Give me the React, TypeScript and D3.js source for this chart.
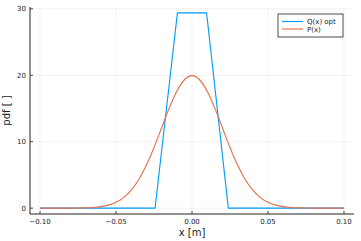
import React from "react";
import * as d3 from "d3";

// Q(x) opt: optimised piecewise-linear density
const qX = [-0.1, -0.0243, -0.0096, 0.0096, 0.0239, 0.1];
const qY = [0, 0, 29.4, 29.4, 0, 0];

// P(x): every 0.005 m
const pX = [
  -0.1, -0.095, -0.09, -0.085, -0.08, -0.075, -0.07, -0.065, -0.06, -0.055, -0.05,
  -0.045, -0.04, -0.035, -0.03, -0.025, -0.02, -0.015, -0.01, -0.005, 0,
  0.005, 0.01, 0.015, 0.02, 0.025, 0.03, 0.035, 0.04, 0.045, 0.05,
  0.055, 0.06, 0.065, 0.07, 0.075, 0.08, 0.085, 0.09, 0.095, 0.1,
];
const pY = [
  0.0001, 0.0002, 0.0008, 0.0024, 0.0067, 0.0176, 0.0436, 0.101, 0.222, 0.455, 0.876,
  1.59, 2.7, 4.31, 6.48, 9.13, 12.1, 15.06, 17.6, 19.33, 19.95,
  19.33, 17.6, 15.06, 12.1, 9.13, 6.48, 4.31, 2.7, 1.59, 0.876,
  0.455, 0.222, 0.101, 0.0436, 0.0176, 0.0067, 0.0024, 0.0008, 0.0002, 0.0001,
];

const xTicks = [-0.1, -0.05, 0, 0.05, 0.1];
const yTicks = [0, 10, 20, 30];
const seriesNames = ["Q(x) opt", "P(x)"];
const colors = ["#009af9", "#e26f46"];

const W = 361;
const H = 241;
const font = "DejaVu Sans, sans-serif";

export default function App() {
  const left = 30, right = 354, top = 7, bottom = 214;

  const xPad = 0.2 * 0.033;
  const x = d3.scaleLinear().domain([-0.1 - xPad, 0.1 + xPad]).range([left, right]);
  const yPad = 29.4 * 0.03;
  const y = d3.scaleLinear().domain([-yPad, 29.4 + yPad]).range([bottom, top]);

  const fmt = d3.format(".2f");

  const line = d3.line<[number, number]>()
    .x(d => x(d[0]))
    .y(d => y(d[1]));
  const smooth = d3.line<[number, number]>()
    .curve(d3.curveMonotoneX)
    .x(d => x(d[0]))
    .y(d => y(d[1]));

  const qPts = qX.map((v, i) => [v, qY[i]] as [number, number]);
  const pPts = pX.map((v, i) => [v, pY[i]] as [number, number]);

  const lgX = 278, lgY = 14, lgW = 65, lgH = 23;

  return (
    <svg width={W} height={H} style={{ position: "absolute", left: 0, top: 0 }} fontFamily={font}>
      <rect width={W} height={H} fill="#fff" />
      {/* grid */}
      {xTicks.map(t => (
        <line key={"gx" + t} x1={x(t)} x2={x(t)} y1={top} y2={bottom} stroke="#000" strokeOpacity={0.1} strokeWidth={0.5} />
      ))}
      {yTicks.map(t => (
        <line key={"gy" + t} x1={left} x2={right} y1={y(t)} y2={y(t)} stroke="#000" strokeOpacity={0.1} strokeWidth={0.5} />
      ))}

      {/* axes */}
      <line x1={left} x2={left} y1={top} y2={bottom} stroke="#222" strokeWidth={1} />
      <line x1={left} x2={right} y1={bottom} y2={bottom} stroke="#222" strokeWidth={1} />
      {xTicks.map(t => (
        <g key={"tx" + t}>
          <line x1={x(t)} x2={x(t)} y1={bottom} y2={bottom - 3} stroke="#222" strokeWidth={0.8} />
          <text x={x(t)} y={bottom + 10} textAnchor="middle" fontSize={7} fill="#222">{fmt(t)}</text>
        </g>
      ))}
      {yTicks.map(t => (
        <g key={"ty" + t}>
          <line x1={left} x2={left + 3} y1={y(t)} y2={y(t)} stroke="#222" strokeWidth={0.8} />
          <text x={left - 4} y={y(t) + 2.5} textAnchor="end" fontSize={7} fill="#222">{t}</text>
        </g>
      ))}

      <text x={(left + right) / 2} y={236} textAnchor="middle" fontSize={10} fill="#222">x [m]</text>
      <text transform={`translate(10,${(top + bottom) / 2}) rotate(-90)`} textAnchor="middle" fontSize={10} fill="#222">pdf [ ]</text>

      {/* series */}
      <path d={line(qPts) || ""} fill="none" stroke={colors[0]} strokeWidth={1.1} />
      <path d={smooth(pPts) || ""} fill="none" stroke={colors[1]} strokeWidth={1.1} />

      {/* legend */}
      <rect x={lgX} y={lgY} width={lgW} height={lgH} fill="#fff" stroke="#222" strokeWidth={0.8} />
      {seriesNames.map((n, i) => (
        <g key={n}>
          <line x1={lgX + 4} x2={lgX + 25} y1={lgY + 7.5 + i * 7.5} y2={lgY + 7.5 + i * 7.5} stroke={colors[i]} strokeWidth={1.1} />
          <text x={lgX + 29} y={lgY + 10 + i * 7.5} fontSize={7} fill="#222">{n}</text>
        </g>
      ))}
    </svg>
  );
}
